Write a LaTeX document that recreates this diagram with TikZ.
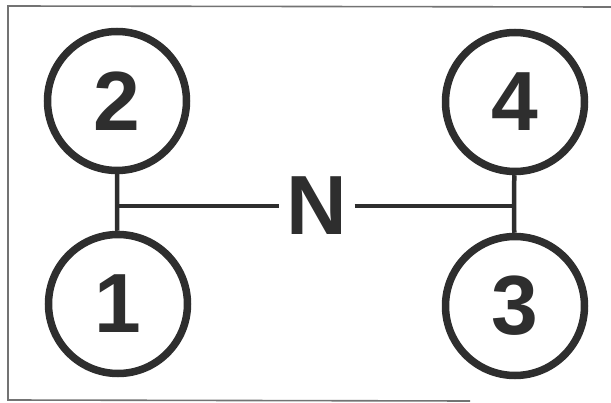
\documentclass[tikz,border=0pt]{standalone}
\usepackage{fontspec}
\setmainfont{Liberation Sans}
\begin{document}
\begin{tikzpicture}[x=1pt,y=-1pt,
  ink/.style={black!82},
  ring/.style={circle, draw=black!82, line width=7.5pt, minimum size=139pt, inner sep=0pt,
    font=\fontsize{84}{84}\selectfont\bfseries, text=black!82},
  link/.style={draw=black!82, line width=4.5pt},
  frame/.style={draw=black!55, line width=1.6pt}]
\useasboundingbox (0,0) rectangle (611,403);
\draw[frame] (611,7) -- (8,6) -- (8,400) -- (470,401);
\node[ring] (c2) at (117,101) {2};
\node[ring] (c1) at (118,304) {1};
\node[ring] (c4) at (515,102) {4};
\node[ring] (c3) at (515,306) {3};
\node[font=\fontsize{84}{84}\selectfont\bfseries, text=black!82, inner xsep=7pt, inner ysep=0pt] (n) at (317,206) {N};
\coordinate (jl) at (117,206);
\coordinate (jr) at (514,206);
\draw[link] (c2) -- (jl) -- (c1);
\draw[link] (c4) -- (jr) -- (c3);
\draw[link] (jl) -- (n.west);
\draw[link] (n.east) -- (jr);
\end{tikzpicture}
\end{document}
